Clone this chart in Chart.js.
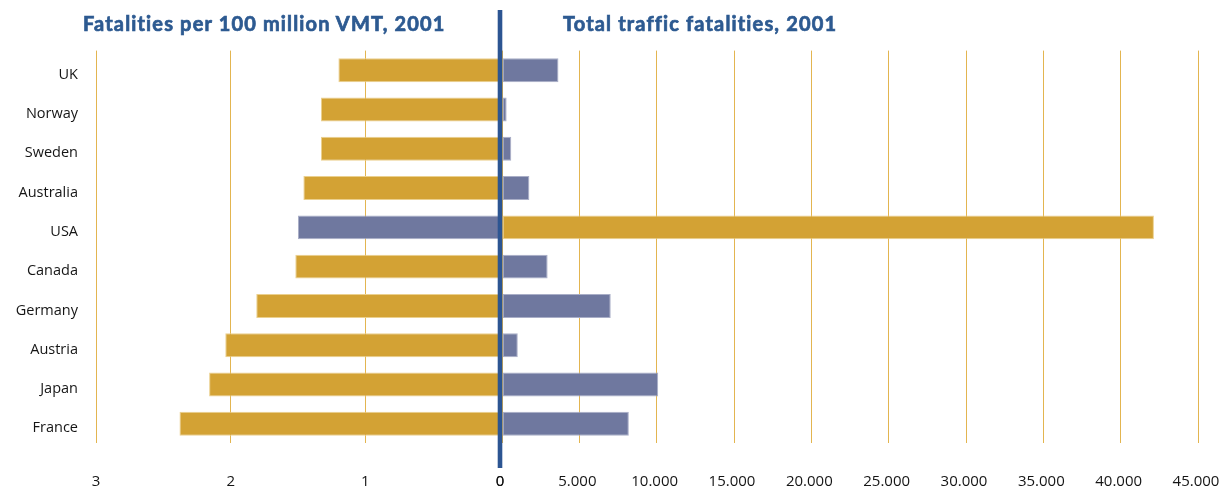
<!DOCTYPE html>
<html>
<head>
<meta charset="utf-8">
<script src="https://cdn.jsdelivr.net/npm/chart.js@4.4.1/dist/chart.umd.min.js"></script>
<style>
  html, body { margin: 0; padding: 0; background: #fff; }
  #wrap { position: relative; width: 1230px; height: 486px; overflow: hidden; }
  #left { position: absolute; left: 0; top: 0; z-index: 2; }
  #right { position: absolute; left: 490px; top: 0; z-index: 1; }
  .title { position: absolute; top: 11px; font-family: Lato, "Open Sans", sans-serif; font-weight: 700; font-size: 20px; letter-spacing: 1.15px; -webkit-text-stroke: 0.7px #2D5A91; color: #2D5A91; white-space: nowrap; z-index: 3; }
</style>
</head>
<body>
<div id="wrap">
  <div class="title" style="left:83px">Fatalities per 100 million VMT, 2001</div>
  <div class="title" style="left:563px">Total traffic fatalities, 2001</div>
  <canvas id="left" width="505" height="486" style="width:505px;height:486px"></canvas>
  <canvas id="right" width="740" height="486" style="width:740px;height:486px"></canvas>
</div>
<script>
const categories = ['UK', 'Norway', 'Sweden', 'Australia', 'USA', 'Canada', 'Germany', 'Austria', 'Japan', 'France'];
const ratePer100mVMT = [1.2, 1.33, 1.33, 1.46, 1.5, 1.52, 1.81, 2.04, 2.16, 2.38];
const totalFatalities = [3650, 300, 600, 1770, 42150, 2950, 7030, 1020, 10100, 8200];
const rateTicks = [0, 1, 2, 3];
const fatalityTicks = [0, 5000, 10000, 15000, 20000, 25000, 30000, 35000, 40000, 45000];

const GOLD = '#D3A234';
const BLUE = '#6F789F';
const GRID = '#E3B550';
const LINE = '#2C5592';
const highlight = 'USA';

const leftColors = categories.map(c => c === highlight ? BLUE : GOLD);
const rightColors = categories.map(c => c === highlight ? GOLD : BLUE);
const leftBorders = categories.map(c => c === highlight ? '#A9AEC7' : '#EBD08E');
const rightBorders = categories.map(c => c === highlight ? '#EBD08E' : '#A9AEC7');

const fmt = v => String(v).replace(/\B(?=(\d{3})+(?!\d))/g, '.');

const tickFont = { family: '"Open Sans", Lato, sans-serif', size: 15, weight: '500' };
const catFont = { family: '"Open Sans", Lato, sans-serif', size: 14.5, weight: '500' };
const PLOT_TOP = 50.6;
const AXIS_H = 42.6;

const centerLine = {
  id: 'centerLine',
  afterDraw(chart) {
    const ctx = chart.ctx;
    const x0 = chart.scales.x.getPixelForValue(0);
    ctx.save();
    ctx.fillStyle = LINE;
    ctx.fillRect(x0 - 2.3, 10, 4.6, 458);
    ctx.restore();
  }
};

const xGrid = { color: GRID, lineWidth: 1, drawTicks: true, tickLength: 29, tickColor: 'rgba(0,0,0,0)' };

new Chart(document.getElementById('left'), {
  type: 'bar',
  data: {
    labels: categories,
    datasets: [{
      data: ratePer100mVMT,
      backgroundColor: leftColors,
      borderColor: leftBorders,
      borderWidth: 1,
      borderSkipped: false,
      barPercentage: 0.61,
      categoryPercentage: 1
    }]
  },
  options: {
    indexAxis: 'y',
    responsive: false,
    animation: false,
    layout: { padding: { top: PLOT_TOP, right: 5, left: 0, bottom: 0 } },
    plugins: { legend: { display: false }, tooltip: { enabled: false }, title: { display: false } },
    scales: {
      x: {
        min: 0, max: 3, reverse: true,
        afterBuildTicks: s => { s.ticks = rateTicks.map(v => ({ value: v })); },
        afterFit: s => { s.height = AXIS_H; },
        grid: xGrid,
        border: { display: false },
        ticks: { font: tickFont, color: '#151515', padding: 0, maxRotation: 0 }
      },
      y: {
        afterFit: s => { s.width = 96; },
        grid: { display: false, drawTicks: false },
        border: { display: false },
        ticks: { font: catFont, color: '#151515', padding: 18, labelOffset: 4.5 }
      }
    }
  },
  plugins: [centerLine]
});

new Chart(document.getElementById('right'), {
  type: 'bar',
  data: {
    labels: categories,
    datasets: [{
      data: totalFatalities,
      backgroundColor: rightColors,
      borderColor: rightBorders,
      borderWidth: 1,
      borderSkipped: false,
      barPercentage: 0.61,
      categoryPercentage: 1
    }]
  },
  options: {
    indexAxis: 'y',
    responsive: false,
    animation: false,
    layout: { padding: { top: PLOT_TOP, right: 32, left: 12, bottom: 0 } },
    plugins: { legend: { display: false }, tooltip: { enabled: false }, title: { display: false } },
    scales: {
      x: {
        min: 0, max: 45000,
        afterBuildTicks: s => { s.ticks = fatalityTicks.map(v => ({ value: v })); },
        afterFit: s => { s.height = AXIS_H; },
        grid: xGrid,
        border: { display: false },
        ticks: { font: tickFont, color: '#151515', padding: 0, maxRotation: 0, labelOffset: -2, callback: v => fmt(v) }
      },
      y: { display: false }
    }
  }
});
</script>
</body>
</html>
